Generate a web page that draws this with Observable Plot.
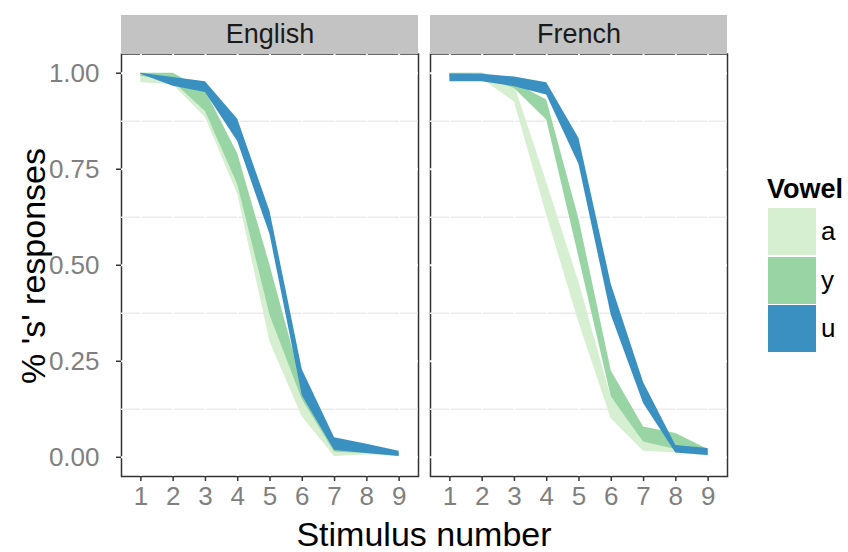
<!DOCTYPE html>
<html><head><meta charset="utf-8">
<script src="https://cdn.jsdelivr.net/npm/d3@7"></script>
<script src="https://cdn.jsdelivr.net/npm/@observablehq/plot@0.6"></script>
<style>
body{margin:0;background:#fff;font-family:"Liberation Sans",Arial,Helvetica,sans-serif;}
#wrap{position:relative;width:848px;height:552px;overflow:hidden;}
#wrap svg{position:absolute;left:0;top:0;}
.ov{position:absolute;white-space:nowrap;color:#000;}
.key{position:absolute;left:768px;width:48px;height:47px;}
.klab{position:absolute;left:821px;font-size:26px;line-height:47px;height:47px;color:#000;}
</style></head>
<body><div id="wrap"></div>
<script>
// ---- data ----
const stimulus = [1, 2, 3, 4, 5, 6, 7, 8, 9];
const languages = ["English", "French"];
const vowels = ["a", "y", "u"];
const vowelColors = ["#d6efd1", "#99d5a4", "#3a90c0"];
const yTicks = [0, 0.25, 0.5, 0.75, 1];
const yMinor = [0.125, 0.375, 0.625, 0.875];
const yDomain = [-0.05, 1.05];
const xDomain = [0.4, 9.6];

// English ribbons (lower / upper bounds)
const engALo = [0.975, 0.970, 0.885, 0.685, 0.300, 0.105, 0.002, 0.006, 0.003];
const engAHi = [1.000, 0.997, 0.930, 0.755, 0.400, 0.150, 0.025, 0.020, 0.010];
const engYLo = [0.992, 0.978, 0.900, 0.710, 0.370, 0.150, 0.013, 0.010, 0.004];
const engYHi = [1.000, 1.000, 0.955, 0.790, 0.500, 0.190, 0.040, 0.030, 0.012];
const engULo = [0.997, 0.966, 0.950, 0.822, 0.580, 0.160, 0.018, 0.010, 0.002];
const engUHi = [1.000, 0.989, 0.978, 0.880, 0.640, 0.228, 0.051, 0.034, 0.016];
// French ribbons
const freALo = [0.990, 0.985, 0.925, 0.630, 0.350, 0.100, 0.016, 0.011, 0.003];
const freAHi = [1.000, 1.000, 0.970, 0.715, 0.455, 0.155, 0.050, 0.035, 0.015];
const freYLo = [0.990, 0.990, 0.960, 0.878, 0.520, 0.157, 0.040, 0.020, 0.005];
const freYHi = [1.000, 1.000, 0.975, 0.930, 0.620, 0.225, 0.079, 0.062, 0.020];
const freULo = [0.978, 0.978, 0.965, 0.943, 0.762, 0.370, 0.140, 0.011, 0.005];
const freUHi = [0.998, 0.997, 0.990, 0.975, 0.830, 0.450, 0.195, 0.031, 0.023];

const bounds = {
  English: {a: [engALo, engAHi], y: [engYLo, engYHi], u: [engULo, engUHi]},
  French:  {a: [freALo, freAHi], y: [freYLo, freYHi], u: [freULo, freUHi]}
};
const rows = [];
for (const lang of languages)
  for (const v of vowels)
    stimulus.forEach((s, i) => rows.push({lang, vowel: v, x: s, lo: bounds[lang][v][0][i], hi: bounds[lang][v][1][i]}));

const chart = Plot.plot({
  width: 848, height: 552,
  marginLeft: 121, marginRight: 121, marginTop: 53.5, marginBottom: 76,
  style: {fontFamily: "'Liberation Sans', Arial, Helvetica, sans-serif", background: "transparent", overflow: "visible"},
  fx: {domain: languages, paddingInner: 12 / 309, paddingOuter: 0, axis: null, label: null},
  x: {domain: xDomain, axis: null},
  y: {domain: yDomain, axis: null},
  color: {domain: vowels, range: vowelColors},
  marks: [
    Plot.frame({stroke: "#333", strokeWidth: 1.5}),
    Plot.ruleY(yMinor, {stroke: "#ebebeb", strokeWidth: 1.5}),
    Plot.ruleY(yTicks, {stroke: "#fff", strokeWidth: 2}),
    Plot.ruleX(stimulus, {stroke: "#fff", strokeWidth: 2}),
    Plot.areaY(rows, {fx: "lang", x: "x", y1: "lo", y2: "hi", z: "vowel", fill: "vowel"}),
    Plot.axisY({ticks: yTicks, tickFormat: d3.format(".2f"), tickSize: 5, tickPadding: 17, fontSize: 26, fill: "#7f7f7f", stroke: "#333", strokeWidth: 1.5, label: null}),
    Plot.axisX({ticks: stimulus, tickFormat: d3.format("d"), tickSize: 5, tickPadding: 5, fontSize: 26, fill: "#7f7f7f", stroke: "#333", strokeWidth: 1.5, label: null}),
    Plot.ruleY([yDomain[1]], {stroke: "#c3c3c3", strokeWidth: 39, dy: -19.5}),
    Plot.text(languages, {fx: d => d, text: d => d, frameAnchor: "top", lineAnchor: "middle", dy: -19.5, fontSize: 27, fill: "#1a1a1a"})
  ]
});

const wrap = document.getElementById("wrap");
wrap.appendChild(chart);

function addText(txt, css) {
  const d = document.createElement("div");
  d.className = "ov";
  d.textContent = txt;
  Object.assign(d.style, css);
  wrap.appendChild(d);
  return d;
}
addText("% 's' responses", {left: "33px", top: "266px", fontSize: "34px", lineHeight: "34px", transform: "translate(-50%,-50%) rotate(-90deg)"});
addText("Stimulus number", {left: "424px", top: "517px", fontSize: "34px", lineHeight: "34px", transform: "translateX(-50%)"});
addText("Vowel", {left: "767px", top: "174px", fontSize: "27px", lineHeight: "30px", fontWeight: "bold"});
vowels.forEach((v, i) => {
  const k = document.createElement("div");
  k.className = "key";
  k.style.top = (208 + i * 48.5) + "px";
  k.style.background = vowelColors[i];
  wrap.appendChild(k);
  const l = document.createElement("div");
  l.className = "klab";
  l.style.top = (208 + i * 48.5) + "px";
  l.textContent = v;
  wrap.appendChild(l);
});
</script></body></html>
